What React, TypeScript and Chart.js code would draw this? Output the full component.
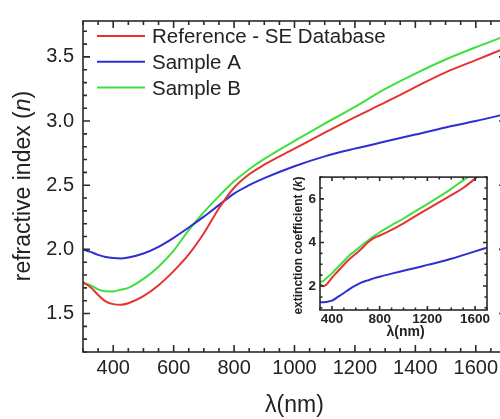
import React, { useEffect, useRef } from "react";
import { Chart, registerables } from "chart.js";

Chart.register(...registerables);

const FONT = '"Liberation Sans", Arial, Helvetica, sans-serif';
const TEXT = "#222222";
const AXIS = "#2a2a2a";

// ---------- main chart data : refractive index n ----------
const WL_N = [300, 325, 350, 375, 400, 425, 450, 500, 550, 600, 650, 700, 750, 800, 850, 900, 1000, 1100, 1200, 1300, 1400, 1500, 1600, 1700];
const N_REFERENCE = [1.742, 1.705, 1.645, 1.595, 1.573, 1.568, 1.58, 1.635, 1.72, 1.83, 1.96, 2.125, 2.32, 2.48, 2.585, 2.66, 2.785, 2.91, 3.03, 3.145, 3.265, 3.38, 3.475, 3.57];
const N_SAMPLE_A = [2.0, 1.98, 1.957, 1.94, 1.932, 1.929, 1.937, 1.968, 2.02, 2.09, 2.17, 2.255, 2.345, 2.435, 2.5, 2.555, 2.648, 2.725, 2.785, 2.84, 2.895, 2.95, 3.0, 3.055];
const N_SAMPLE_B = [1.742, 1.72, 1.688, 1.673, 1.672, 1.685, 1.7, 1.77, 1.865, 1.99, 2.15, 2.29, 2.415, 2.53, 2.625, 2.705, 2.845, 2.98, 3.11, 3.25, 3.37, 3.48, 3.575, 3.665];

// ---------- inset data : extinction coefficient k ----------
const WL_K = [300, 325, 350, 400, 450, 500, 550, 600, 650, 700, 750, 800, 900, 1000, 1100, 1200, 1300, 1400, 1500, 1600, 1700];
const K_REFERENCE = [2.08, 2.0, 2.05, 2.38, 2.68, 2.98, 3.25, 3.48, 3.72, 4.0, 4.2, 4.32, 4.58, 4.88, 5.21, 5.53, 5.85, 6.17, 6.5, 6.93, 7.35];
const K_SAMPLE_A = [1.25, 1.25, 1.27, 1.33, 1.5, 1.68, 1.87, 2.03, 2.17, 2.26, 2.35, 2.43, 2.57, 2.7, 2.83, 2.97, 3.1, 3.25, 3.42, 3.59, 3.76];
const K_SAMPLE_B = [2.2, 2.22, 2.35, 2.58, 2.87, 3.15, 3.42, 3.64, 3.86, 4.08, 4.28, 4.47, 4.79, 5.1, 5.44, 5.76, 6.1, 6.46, 6.85, 7.2, 7.6];

const SERIES_LABELS = ["Reference - SE Database", "Sample A", "Sample B"];
const SERIES_COLORS = ["#e63232", "#2e2ed2", "#3ee03e"];

// ---------- ticks ----------
const X_TICKS = [300, 350, 400, 450, 500, 550, 600, 650, 700, 750, 800, 850, 900, 950, 1000, 1050, 1100, 1150, 1200, 1250, 1300, 1350, 1400, 1450, 1500, 1550, 1600, 1650, 1700];
const X_LABELS = [400, 600, 800, 1000, 1200, 1400, 1600];
const Y_TICKS = [1.2, 1.3, 1.4, 1.5, 1.6, 1.7, 1.8, 1.9, 2.0, 2.1, 2.2, 2.3, 2.4, 2.5, 2.6, 2.7, 2.8, 2.9, 3.0, 3.1, 3.2, 3.3, 3.4, 3.5, 3.6, 3.7];
const Y_LABELS = [1.5, 2.0, 2.5, 3.0, 3.5];

const IX_TICKS = [300, 400, 500, 600, 700, 800, 900, 1000, 1100, 1200, 1300, 1400, 1500, 1600, 1700];
const IX_LABELS = [400, 800, 1200, 1600];
const IY_TICKS = [1, 1.5, 2, 2.5, 3, 3.5, 4, 4.5, 5, 5.5, 6, 6.5, 7];
const IY_LABELS = [2, 4, 6];

const X_TITLE = "λ(nm)";
const Y_TITLE_PARTS = ["refractive index (", "n", ")"];
const IY_TITLE_PARTS = ["extinction coefficient (", "k", ")"];

function makeData(wl: number[], series: number[][]) {
  return {
    datasets: series.map((vals, i) => ({
      label: SERIES_LABELS[i],
      data: wl.map((w, j) => ({ x: w, y: vals[j] })),
      borderColor: SERIES_COLORS[i],
      backgroundColor: SERIES_COLORS[i],
      borderWidth: 2,
      pointRadius: 0,
      cubicInterpolationMode: "monotone" as const,
      fill: false,
    })),
  };
}

function framePlugin(id: string, cfg: { xMajor: number[]; yMajor: number[]; major: number; minor: number; width: number; fillWhite?: boolean }) {
  return {
    id,
    beforeDatasetsDraw(chart: any) {
      if (!cfg.fillWhite) return;
      const { ctx, chartArea: a } = chart;
      ctx.save();
      ctx.fillStyle = "#ffffff";
      ctx.fillRect(a.left, a.top, a.right - a.left, a.bottom - a.top);
      ctx.restore();
    },
    afterDraw(chart: any) {
      const { ctx, chartArea: a, scales } = chart;
      const xs = scales.x;
      const ys = scales.y;
      ctx.save();
      ctx.strokeStyle = AXIS;
      ctx.lineWidth = cfg.width;
      ctx.beginPath();
      for (const t of xs.ticks) {
        const px = xs.getPixelForValue(t.value);
        const len = cfg.xMajor.includes(t.value) ? cfg.major : cfg.minor;
        ctx.moveTo(px, a.bottom);
        ctx.lineTo(px, a.bottom - len);
        ctx.moveTo(px, a.top);
        ctx.lineTo(px, a.top + len);
      }
      for (const t of ys.ticks) {
        const py = ys.getPixelForValue(t.value);
        const len = cfg.yMajor.includes(t.value) ? cfg.major : cfg.minor;
        ctx.moveTo(a.left, py);
        ctx.lineTo(a.left + len, py);
        ctx.moveTo(a.right, py);
        ctx.lineTo(a.right - len, py);
      }
      ctx.stroke();
      ctx.strokeRect(a.left, a.top, a.right - a.left, a.bottom - a.top);
      ctx.restore();
    },
  };
}

function drawRotatedParts(ctx: CanvasRenderingContext2D, parts: string[], cx: number, cy: number, size: number, weight: string) {
  ctx.save();
  ctx.translate(cx, cy);
  ctx.rotate(-Math.PI / 2);
  ctx.fillStyle = TEXT;
  ctx.textBaseline = "middle";
  ctx.textAlign = "left";
  const fonts = parts.map((_, i) => `${i === 1 ? "italic " : ""}${weight} ${size}px ${FONT}`);
  let total = 0;
  const widths = parts.map((p, i) => {
    ctx.font = fonts[i];
    const w = ctx.measureText(p).width;
    total += w;
    return w;
  });
  let x = -total / 2;
  parts.forEach((p, i) => {
    ctx.font = fonts[i];
    ctx.fillText(p, x, 0);
    x += widths[i];
  });
  ctx.restore();
}

const mainDecor = {
  id: "mainDecor",
  afterDraw(chart: any) {
    const { ctx, chartArea: a } = chart;
    // legend
    ctx.save();
    chart.data.datasets.forEach((ds: any, i: number) => {
      const y = 36 + i * 25.7;
      ctx.strokeStyle = ds.borderColor;
      ctx.lineWidth = 2;
      ctx.beginPath();
      ctx.moveTo(97, y);
      ctx.lineTo(145, y);
      ctx.stroke();
      ctx.fillStyle = TEXT;
      ctx.font = `20.5px ${FONT}`;
      ctx.textAlign = "left";
      ctx.textBaseline = "alphabetic";
      ctx.fillText(ds.label, 152, y + 7.4);
    });
    // x title
    ctx.font = `23px ${FONT}`;
    ctx.textAlign = "center";
    ctx.textBaseline = "middle";
    ctx.fillText(X_TITLE, (a.left + a.right) / 2, 406);
    ctx.restore();
    // y title
    drawRotatedParts(ctx, Y_TITLE_PARTS, 24, 186, 23, "normal");
  },
};

const insetDecor = {
  id: "insetDecor",
  afterDraw(chart: any) {
    const { ctx, chartArea: a } = chart;
    ctx.save();
    ctx.fillStyle = TEXT;
    ctx.font = `bold 14px ${FONT}`;
    ctx.textAlign = "center";
    ctx.textBaseline = "middle";
    ctx.fillText(X_TITLE, (a.left + a.right) / 2 + 2, 167);
    ctx.restore();
    drawRotatedParts(ctx, IY_TITLE_PARTS, 13.5, (a.top + a.bottom) / 2 + 2, 12, "bold");
  },
};

export default function App() {
  const mainRef = useRef<HTMLCanvasElement>(null);
  const insetRef = useRef<HTMLCanvasElement>(null);

  useEffect(() => {
    const main = new Chart(mainRef.current as HTMLCanvasElement, {
      type: "line",
      data: makeData(WL_N, [N_REFERENCE, N_SAMPLE_A, N_SAMPLE_B]) as any,
      options: {
        responsive: false,
        animation: false,
        devicePixelRatio: 1,
        layout: { padding: { top: 12, right: 2, left: 0, bottom: 0 } },
        plugins: { legend: { display: false }, tooltip: { enabled: false }, title: { display: false } },
        scales: {
          x: {
            type: "linear",
            min: 300,
            max: 1700,
            afterBuildTicks: (s: any) => { s.ticks = X_TICKS.map((v) => ({ value: v })); },
            afterFit: (s: any) => { s.height = 67; },
            grid: { display: false, drawTicks: false },
            border: { display: false },
            ticks: {
              autoSkip: false,
              maxRotation: 0,
              padding: 4,
              color: TEXT,
              font: { family: FONT, size: 20 },
              callback: (v: any) => (X_LABELS.includes(Number(v)) ? String(v) : ""),
            },
          },
          y: {
            type: "linear",
            min: 1.2,
            max: 3.78,
            afterBuildTicks: (s: any) => { s.ticks = Y_TICKS.map((v) => ({ value: v })); },
            afterFit: (s: any) => { s.width = 83; },
            grid: { display: false, drawTicks: false },
            border: { display: false },
            ticks: {
              autoSkip: false,
              padding: 9,
              color: TEXT,
              font: { family: FONT, size: 20 },
              callback: (v: any) => (Y_LABELS.includes(Number(v)) ? Number(v).toFixed(1) : ""),
            },
          },
        },
      },
      plugins: [framePlugin("mainFrame", { xMajor: X_LABELS, yMajor: Y_LABELS, major: 7, minor: 4, width: 1.6 }), mainDecor],
    });

    const inset = new Chart(insetRef.current as HTMLCanvasElement, {
      type: "line",
      data: makeData(WL_K, [K_REFERENCE, K_SAMPLE_A, K_SAMPLE_B]) as any,
      options: {
        responsive: false,
        animation: false,
        devicePixelRatio: 1,
        layout: { padding: { top: 10, right: 13, left: 0, bottom: 0 } },
        plugins: { legend: { display: false }, tooltip: { enabled: false }, title: { display: false } },
        scales: {
          x: {
            type: "linear",
            min: 300,
            max: 1700,
            afterBuildTicks: (s: any) => { s.ticks = IX_TICKS.map((v) => ({ value: v })); },
            afterFit: (s: any) => { s.height = 40; },
            grid: { display: false, drawTicks: false },
            border: { display: false },
            ticks: {
              autoSkip: false,
              maxRotation: 0,
              padding: 1,
              color: TEXT,
              font: { family: FONT, size: 13.5, weight: "bold" },
              callback: (v: any) => (IX_LABELS.includes(Number(v)) ? String(v) : ""),
            },
          },
          y: {
            type: "linear",
            min: 0.9,
            max: 7.0,
            afterBuildTicks: (s: any) => { s.ticks = IY_TICKS.map((v) => ({ value: v })); },
            afterFit: (s: any) => { s.width = 35; },
            grid: { display: false, drawTicks: false },
            border: { display: false },
            ticks: {
              autoSkip: false,
              padding: 4,
              color: TEXT,
              font: { family: FONT, size: 13.5, weight: "bold" },
              callback: (v: any) => (IY_LABELS.includes(Number(v)) ? String(v) : ""),
            },
          },
        },
      },
      plugins: [framePlugin("insetFrame", { xMajor: IX_LABELS, yMajor: IY_LABELS, major: 4, minor: 2.5, width: 1.6, fillWhite: true }), insetDecor],
    });

    return () => {
      main.destroy();
      inset.destroy();
    };
  }, []);

  return (
    <div style={{ position: "fixed", left: 0, top: 0, width: 500, height: 419, overflow: "hidden", background: "#ffffff" }}>
      <canvas ref={mainRef} width={510} height={419} style={{ position: "absolute", left: 0, top: 0, width: 510, height: 419 }} />
      <canvas ref={insetRef} width={215} height={185} style={{ position: "absolute", left: 285, top: 165, width: 215, height: 185 }} />
    </div>
  );
}
